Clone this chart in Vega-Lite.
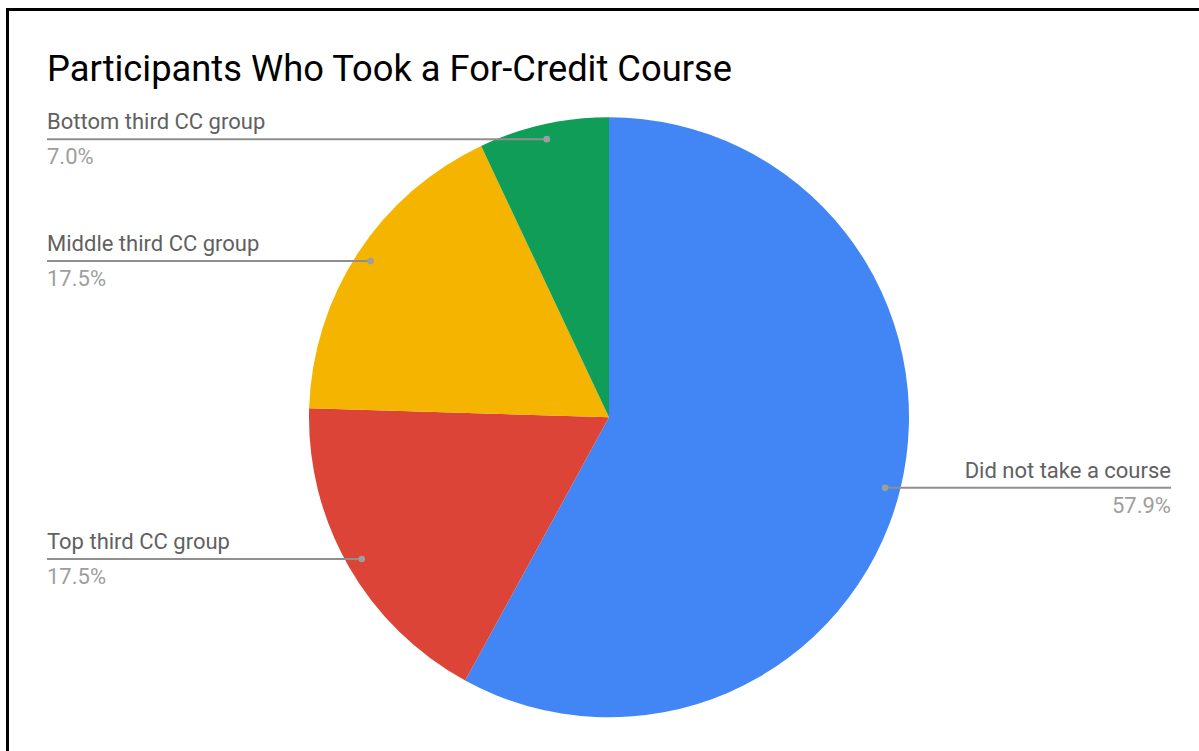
{
  "$schema": "https://vega.github.io/schema/vega-lite/v6.json",
  "autosize": "none",
  "padding": {"left": 7, "top": 9, "right": 0, "bottom": 0},
  "width": 1192,
  "height": 742,
  "background": "white",
  "title": {
    "text": "Participants Who Took a For-Credit Course",
    "anchor": "start",
    "frame": "group",
    "font": "Roboto",
    "fontSize": 36.3,
    "fontWeight": "normal",
    "color": "#000000",
    "baseline": "alphabetic",
    "offset": 0,
    "dx": 40,
    "dy": 108
  },
  "config": {
    "view": {"stroke": null},
    "axis": {"ticks": false, "labels": false, "grid": false, "title": null, "domain": true, "domainColor": "#000000", "domainWidth": 3, "domainCap": "square"}
  },
  "data": {
    "values": [
      {"group": "Did not take a course", "share": 0.579, "order": 1},
      {"group": "Top third CC group", "share": 0.175, "order": 2},
      {"group": "Middle third CC group", "share": 0.175, "order": 3},
      {"group": "Bottom third CC group", "share": 0.07, "order": 4}
    ]
  },
  "transform": [
    {"joinaggregate": [{"op": "sum", "field": "share", "as": "total"}]},
    {"window": [{"op": "sum", "field": "share", "as": "cum"}], "sort": [{"field": "order"}], "frame": [null, 0]},
    {"calculate": "2*PI*(datum.cum - datum.share/2)/datum.total", "as": "mid"},
    {"calculate": "0.95*sin(datum.mid)", "as": "px"},
    {"calculate": "0.95*cos(datum.mid)", "as": "py"},
    {"calculate": "datum.px < 0 ? -1.8733 : 1.8733", "as": "lx"}
  ],
  "layer": [
    {
      "mark": {"type": "arc", "radius": 300, "stroke": null},
      "encoding": {
        "theta": {"field": "share", "type": "quantitative", "stack": true},
        "order": {"field": "order", "type": "quantitative"},
        "color": {
          "field": "group",
          "type": "nominal",
          "scale": {
            "domain": ["Did not take a course", "Top third CC group", "Middle third CC group", "Bottom third CC group"],
            "range": ["#4285F4", "#DB4437", "#F4B400", "#0F9D58"]
          },
          "legend": null
        },
        "x": {"value": {"expr": "scale('x', 0)"}},
        "y": {"value": {"expr": "scale('y', 0)"}}
      }
    },
    {
      "mark": {"type": "rule", "color": "#8f8f8f", "strokeWidth": 2},
      "encoding": {
        "x": {"field": "px", "type": "quantitative", "scale": {"domain": [-2.006667, 1.966667], "nice": false, "zero": false}, "axis": {"orient": "top"}, "title": null},
        "x2": {"field": "lx"},
        "y": {"field": "py", "type": "quantitative", "scale": {"domain": [-1.112333, 1.361], "nice": false, "zero": false}, "axis": {"orient": "left"}, "title": null}
      }
    },
    {
      "mark": {"type": "point", "filled": true, "color": "#9e9e9e", "opacity": 1, "size": 44},
      "encoding": {
        "x": {"field": "px", "type": "quantitative", "axis": {"orient": "top"}, "title": null},
        "y": {"field": "py", "type": "quantitative", "axis": {"orient": "left"}, "title": null}
      }
    },
    {
      "transform": [{"filter": "datum.px < 0"}],
      "mark": {"type": "text", "align": "left", "baseline": "alphabetic", "dy": -10, "font": "Roboto", "fontSize": 22, "color": "#616161"},
      "encoding": {
        "x": {"field": "lx", "type": "quantitative", "axis": {"orient": "top"}, "title": null},
        "y": {"field": "py", "type": "quantitative", "axis": {"orient": "left"}, "title": null},
        "text": {"field": "group"}
      }
    },
    {
      "transform": [{"filter": "datum.px < 0"}],
      "mark": {"type": "text", "align": "left", "baseline": "alphabetic", "dy": 25, "font": "Roboto", "fontSize": 22, "color": "#9e9e9e"},
      "encoding": {
        "x": {"field": "lx", "type": "quantitative", "axis": {"orient": "top"}, "title": null},
        "y": {"field": "py", "type": "quantitative", "axis": {"orient": "left"}, "title": null},
        "text": {"field": "share", "format": ".1%"}
      }
    },
    {
      "transform": [{"filter": "datum.px >= 0"}],
      "mark": {"type": "text", "align": "right", "baseline": "alphabetic", "dy": -10, "font": "Roboto", "fontSize": 22, "color": "#616161"},
      "encoding": {
        "x": {"field": "lx", "type": "quantitative", "axis": {"orient": "top"}, "title": null},
        "y": {"field": "py", "type": "quantitative", "axis": {"orient": "left"}, "title": null},
        "text": {"field": "group"}
      }
    },
    {
      "transform": [{"filter": "datum.px >= 0"}],
      "mark": {"type": "text", "align": "right", "baseline": "alphabetic", "dy": 25, "font": "Roboto", "fontSize": 22, "color": "#9e9e9e"},
      "encoding": {
        "x": {"field": "lx", "type": "quantitative", "axis": {"orient": "top"}, "title": null},
        "y": {"field": "py", "type": "quantitative", "axis": {"orient": "left"}, "title": null},
        "text": {"field": "share", "format": ".1%"}
      }
    }
  ]
}
